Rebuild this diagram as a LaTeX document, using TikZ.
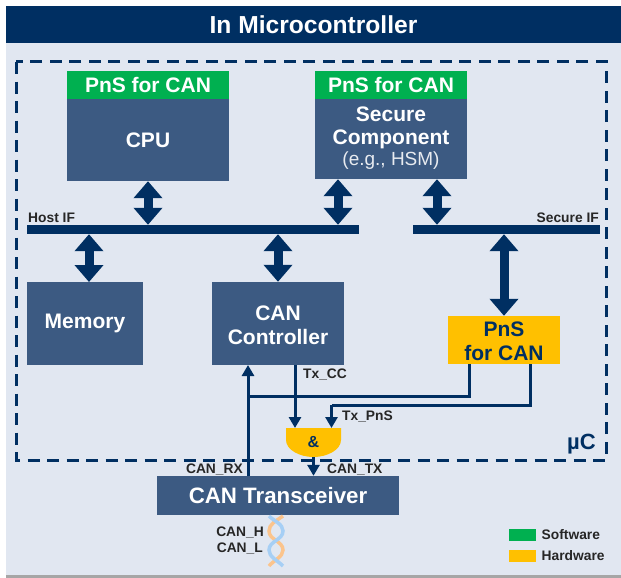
\documentclass[tikz,border=0pt]{standalone}
\usepackage{fontspec}
\setmainfont{Liberation Sans}
\usetikzlibrary{arrows.meta}

\definecolor{navy}{HTML}{002F62}
\definecolor{boxblue}{HTML}{3C5A82}
\definecolor{panel}{HTML}{E1E7F1}
\definecolor{swgreen}{HTML}{00B050}
\definecolor{hwyellow}{HTML}{FFC000}
\definecolor{pairorange}{HTML}{FBC48C}
\definecolor{pairblue}{HTML}{A6CFF5}

\newcommand{\bigfont}{\bfseries\fontsize{21}{24}\selectfont}
\newcommand{\smallfont}{\bfseries\fontsize{13.8}{16}\selectfont}

\tikzset{
	blockbox/.style={fill=boxblue, text=white, font=\bigfont, inner sep=0pt, align=center},
	blocktext/.style={text=white, font=\bigfont, inner sep=0pt},
	swbox/.style={fill=swgreen, text=white, font=\bigfont, inner sep=0pt},
	hwbox/.style={fill=hwyellow, inner sep=0pt},
	hwtext/.style={text=navy, font=\bigfont, inner sep=0pt},
	busbar/.style={fill=navy, inner sep=0pt, minimum height=9pt},
	busarrow/.style={draw=navy, line width=9pt, {Triangle[length=17pt,width=28pt]}-{Triangle[length=17pt,width=28pt]}},
	wire/.style={draw=navy, line width=3pt},
	wirearrow/.style={wire, -{Triangle[length=11pt,width=12pt]}},
	siglabel/.style={font=\smallfont, text=black!85, inner sep=0pt},
}

\begin{document}
\begin{tikzpicture}[x=1pt, y=-1pt]

	\useasboundingbox (0,0) rectangle (621,578);

	% background and title
	\fill[black!35] (6,570) rectangle (621,578);
	\fill[panel] (6,43) rectangle (621,575);
	\node[fill=navy, text=white, font=\bfseries\fontsize{24.6}{28}\selectfont, inner sep=0pt, minimum width=615pt, minimum height=37pt] (title) at (313.5,24.5) {In Microcontroller};

	% microcontroller outline
	\draw[navy, line width=3pt, dash pattern=on 12pt off 7.5pt] (16,62) rectangle (606,460);
	\node[font=\bfseries\fontsize{22}{26}\selectfont, text=navy, inner sep=0pt, anchor=south east] (uc) at (596,454) {µC};

	% blocks
	\node[blockbox, minimum width=162pt, minimum height=82pt] (cpu) at (148,140) {CPU};
	\node[swbox, minimum width=162pt, minimum height=28pt] (cpupns) at (148,85) {PnS for CAN};
	\node[blockbox, minimum width=152pt, minimum height=80pt] (secure) at (391,139) {};
	\node[swbox, minimum width=152pt, minimum height=28pt] (securepns) at (391,85) {PnS for CAN};
	\node[blocktext] (securename) at (391,114) {Secure};
	\node[blocktext] (securecomp) at (391,139) {Component};
	\node[blocktext, text=white!88!boxblue, font=\fontsize{19}{22}\selectfont] (securehsm) at (391,161) {(e.g., HSM)};
	\node[blockbox, minimum width=116pt, minimum height=83pt] (memory) at (85,323.5) {Memory};
	\node[blockbox, minimum width=132pt, minimum height=83pt] (canctrl) at (278,323.5) {};
	\node[blocktext] (canname) at (278,313) {CAN};
	\node[blocktext] (ctrlname) at (278,336.5) {Controller};
	\node[hwbox, minimum width=112pt, minimum height=48pt] (pns) at (504,340) {};
	\node[hwtext] (pnsname) at (504,329) {PnS};
	\node[hwtext] (forcan) at (504,353) {for CAN};
	\node[blockbox, font=\bfseries\fontsize{22.3}{26}\selectfont, minimum width=242pt, minimum height=39pt] (transceiver) at (278,495.5) {CAN Transceiver};

	% buses
	\node[busbar, minimum width=332pt] (hostif) at (193,229.5) {};
	\node[busbar, minimum width=187pt] (secureif) at (506.5,229.5) {};
	\node[siglabel, anchor=south west] (hostlabel) at (28,223) {Host IF};
	\node[siglabel, anchor=south east] (securelabel) at (599,223) {Secure IF};

	\coordinate (memport) at (89,282);
	\draw[busarrow] (cpu.south) -- (cpu.south |- hostif.north);
	\draw[busarrow] ([xshift=-53pt]secure.south) -- ([xshift=-53pt]secure.south |- hostif.north);
	\draw[busarrow] ([xshift=46pt]secure.south) -- ([xshift=46pt]secure.south |- secureif.north);
	\draw[busarrow] (memport) -- (memport |- hostif.south);
	\draw[busarrow] (canctrl.north) -- (canctrl.north |- hostif.south);
	\draw[busarrow] (pns.north) -- (pns.north |- secureif.south);

	% and gate
	\fill[hwyellow] (286,428) -- (341,428) -- (341,440) .. controls (341,450) and (327,457) .. (313.5,457) .. controls (300,457) and (286,450) .. (286,440) -- cycle;
	\node[font=\bfseries\fontsize{16}{18}\selectfont, text=navy, inner sep=0pt, minimum width=55pt, minimum height=29pt] (andgate) at (313.5,442.5) {\&};

	% signals
	\coordinate (ccin) at (295,428);
	\coordinate (pnsin) at (331.5,428);
	\coordinate (rxin) at (248,365);
	\coordinate (pnsleft) at (469,396);
	\coordinate (pnsright) at (530.5,405);

	\draw[wirearrow] (transceiver.north -| rxin) -- (rxin);
	\draw[wirearrow] (canctrl.south -| ccin) -- (ccin);
	\draw[wire] (pns.south -| pnsleft) -- (pnsleft) -- (pnsleft -| rxin);
	\draw[wire] (pns.south -| pnsright) -- (pnsright) -- (pnsright -| pnsin);
	\draw[wirearrow] (pnsright -| pnsin) -- (pnsin);
	\draw[wirearrow] (andgate.south) -- (andgate.south |- transceiver.north);

	\node[siglabel, anchor=west] (txcc) at (303,375) {Tx\_CC};
	\node[siglabel, anchor=west] (txpns) at (342,417) {Tx\_PnS};
	\node[siglabel, anchor=east] (canrx) at (243,470) {CAN\_RX};
	\node[siglabel, anchor=west] (cantx) at (327,470) {CAN\_TX};

	% twisted pair
	\draw[pairorange, line width=3.5pt] (283,516) .. controls (276,521) and (269,524) .. (269,531) .. controls (269,540) and (283,541) .. (283,550) .. controls (283,557) and (274,560) .. (269,566);
	\draw[pairblue, line width=3.5pt] (269,516) .. controls (274,521) and (283,524) .. (283,531) .. controls (283,540) and (269,541) .. (269,550) .. controls (269,557) and (277,560) .. (283,566);
	\node[siglabel, anchor=east] (canh) at (264,533) {CAN\_H};
	\node[siglabel, anchor=east] (canl) at (263,549) {CAN\_L};

	% legend
	\fill[swgreen] (509,529) rectangle (536,541);
	\fill[hwyellow] (509,550) rectangle (536,562);
	\node[siglabel, anchor=west] (software) at (541.5,535) {Software};
	\node[siglabel, anchor=west] (hardware) at (541.5,556) {Hardware};

\end{tikzpicture}
\end{document}
